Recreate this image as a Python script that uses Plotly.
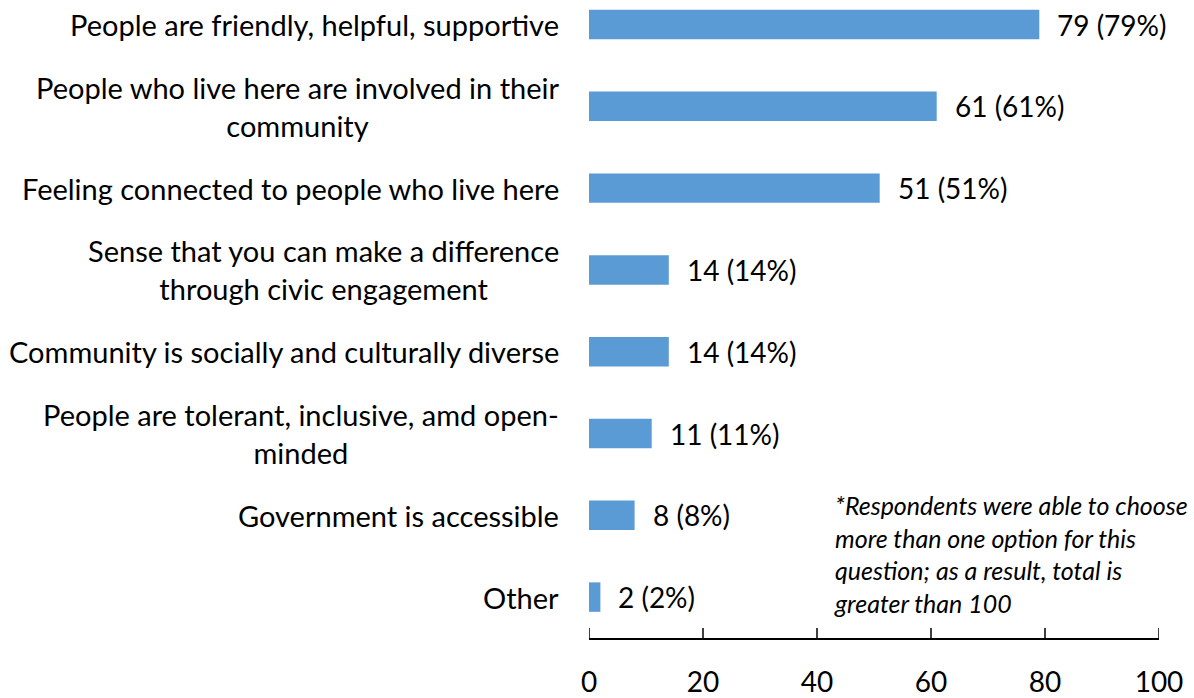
import plotly.graph_objects as go

# Survey responses: what makes the community a good place to live
categories = [
    "People are friendly, helpful, supportive",
    "People who live here are involved in their<br>community",
    "Feeling connected to people who live here",
    "Sense that you can make a difference<br>through civic engagement",
    "Community is socially and culturally diverse",
    "People are tolerant, inclusive, amd open-<br>minded",
    "Government is accessible",
    "Other",
]
counts = [79, 61, 51, 14, 14, 11, 8, 2]
percents = [79, 61, 51, 14, 14, 11, 8, 2]
x_ticks = [0, 20, 40, 60, 80, 100]

note = ("*Respondents were able to choose<br>more than one option for this<br>"
        "question; as a result, total is<br>greater than 100")

BAR_COLOR = "#5B9BD5"
FONT = "Lato"

fig = go.Figure()
fig.add_trace(go.Bar(
    x=counts,
    y=categories,
    orientation="h",
    width=0.36,
    marker=dict(color=BAR_COLOR, line=dict(width=0)),
    hoverinfo="skip",
))

annotations = []
# category labels, centred within a right-aligned block
for cat in categories:
    annotations.append(dict(
        x=0, xref="paper", y=cat, yref="y",
        text=cat, showarrow=False,
        xanchor="right", yanchor="middle", align="center",
        xshift=-28,
        font=dict(family=FONT, size=29, color="#000000"),
    ))
# value labels beside each bar
for cat, c, p in zip(categories, counts, percents):
    annotations.append(dict(
        x=c, xref="x", y=cat, yref="y",
        text=f"{c} ({p}%)", showarrow=False,
        xanchor="left", yanchor="middle", xshift=16,
        font=dict(family=FONT, size=28, color="#000000"),
    ))
# footnote
annotations.append(dict(
    x=0.426, xref="paper", y=0.132, yref="paper",
    text=f"<i>{note}</i>", showarrow=False,
    xanchor="left", yanchor="middle", align="left",
    font=dict(family=FONT, size=25, color="#000000"),
))

# upward tick marks on the value axis, including both ends
tick_shapes = [
    dict(type="line", xref="x", yref="paper", ysizemode="pixel", yanchor=0,
         x0=v, x1=v, y0=0, y1=10,
         line=dict(color="#000000", width=1.5), layer="above")
    for v in x_ticks
]

fig.update_layout(
    width=1194, height=698,
    margin=dict(l=589, r=35, t=0, b=55),
    paper_bgcolor="white", plot_bgcolor="white",
    showlegend=False,
    annotations=annotations,
    shapes=tick_shapes,
    font=dict(family=FONT, color="#000000"),
    xaxis=dict(
        range=[0, 100],
        tickvals=x_ticks,
        ticktext=[str(v) for v in x_ticks],
        showgrid=False, zeroline=False,
        showline=True, linecolor="#000000", linewidth=1.5,
        ticks="",
        ticklabelstandoff=19,
        tickfont=dict(family=FONT, size=28, color="#000000"),
    ),
    yaxis=dict(
        type="category",
        categoryorder="array",
        categoryarray=list(reversed(categories)),
        range=[-0.5, 7.3],
        showticklabels=False, showgrid=False, zeroline=False,
        showline=False, ticks="",
    ),
)

fig.write_html("out.html")
